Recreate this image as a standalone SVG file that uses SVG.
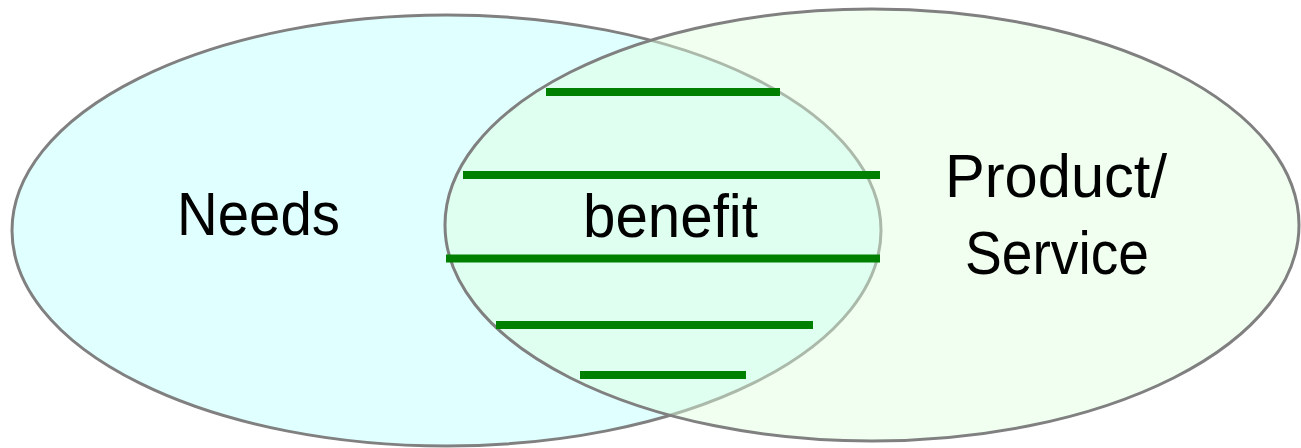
<svg xmlns="http://www.w3.org/2000/svg" width="1301" height="448" viewBox="0 0 1301 448">
<style>
.ell{stroke:#808080;stroke-width:3}
.lbl{font-family:"Liberation Sans",Arial,sans-serif;font-size:62px;fill:#000}
.bar{stroke:#008000;stroke-width:8}
</style>
<rect width="1301" height="448" fill="#fff"/>
<g id="needs">
<ellipse class="ell" cx="446.5" cy="230.5" rx="434.5" ry="215.5" fill="#E0FFFF"/>
<text class="lbl" x="177" y="235" textLength="163" lengthAdjust="spacingAndGlyphs">Needs</text>
</g>
<g id="product">
<ellipse class="ell" cx="872" cy="225" rx="427" ry="216" fill="rgb(222,255,222)" fill-opacity="0.45"/>
<text class="lbl" x="945" y="197" textLength="222" lengthAdjust="spacingAndGlyphs">Product/</text>
<text class="lbl" x="965" y="274" textLength="184" lengthAdjust="spacingAndGlyphs">Service</text>
</g>
<g id="connectors">
<line class="bar" x1="546" y1="92" x2="780" y2="92"/>
<line class="bar" x1="463" y1="175" x2="880" y2="175"/>
<line class="bar" x1="446" y1="258.5" x2="880" y2="258.5"/>
<line class="bar" x1="496" y1="325" x2="813" y2="325"/>
<line class="bar" x1="580" y1="375" x2="746" y2="375"/>
</g>
<g id="benefit">
<text class="lbl" x="583" y="237" textLength="175" lengthAdjust="spacingAndGlyphs">benefit</text>
</g>
</svg>
